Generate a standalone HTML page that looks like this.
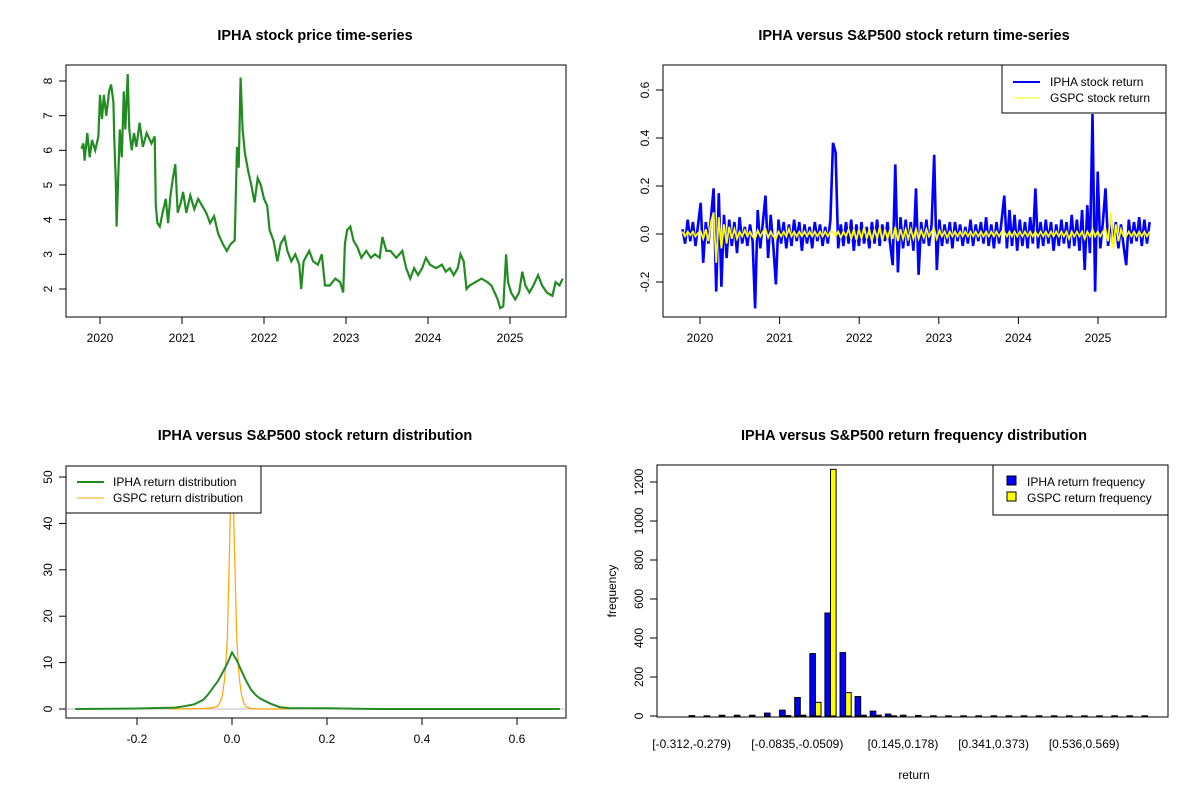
<!DOCTYPE html>
<html><head><meta charset="utf-8">
<style>
html,body{margin:0;padding:0;background:#fff;}
svg{display:block;font-family:"Liberation Sans",Arial,sans-serif;}
</style></head>
<body>
<svg id="c" width="1200" height="800" viewBox="0 0 1200 800" xmlns="http://www.w3.org/2000/svg">
<rect width="1200" height="800" fill="#fff"/>
</svg>
<script>
// ---------- Panel 1: price ----------
const priceDates = [2019.773,2019.797,2019.812,2019.845,2019.874,2019.903,2019.942,2019.981,2020.0,2020.024,2020.048,2020.077,2020.111,2020.135,2020.164,2020.174,2020.193,2020.203,2020.222,2020.242,2020.266,2020.29,2020.309,2020.338,2020.357,2020.386,2020.415,2020.444,2020.483,2020.522,2020.57,2020.628,2020.667,2020.681,2020.7,2020.729,2020.763,2020.802,2020.831,2020.86,2020.889,2020.918,2020.947,2020.986,2021.014,2021.053,2021.101,2021.15,2021.198,2021.246,2021.295,2021.343,2021.391,2021.44,2021.498,2021.546,2021.594,2021.643,2021.671,2021.691,2021.715,2021.739,2021.768,2021.807,2021.845,2021.884,2021.923,2021.961,2022.0,2022.039,2022.068,2022.116,2022.164,2022.203,2022.251,2022.285,2022.333,2022.382,2022.43,2022.454,2022.483,2022.551,2022.599,2022.657,2022.705,2022.744,2022.802,2022.87,2022.928,2022.966,2022.986,2023.014,2023.053,2023.092,2023.14,2023.188,2023.246,2023.304,2023.353,2023.411,2023.444,2023.493,2023.541,2023.614,2023.686,2023.734,2023.783,2023.831,2023.879,2023.928,2023.976,2024.024,2024.097,2024.169,2024.217,2024.266,2024.314,2024.362,2024.396,2024.435,2024.469,2024.507,2024.58,2024.652,2024.725,2024.773,2024.812,2024.85,2024.879,2024.918,2024.952,2024.976,2025.014,2025.063,2025.111,2025.15,2025.188,2025.237,2025.285,2025.343,2025.391,2025.449,2025.517,2025.556,2025.604,2025.643];
const priceValues = [6.05,6.2,5.7,6.5,5.8,6.3,6.0,6.4,7.6,6.9,7.6,7.0,7.7,7.9,7.4,6.3,5.1,3.8,5.2,6.6,5.8,7.7,6.6,8.2,6.6,6.0,6.5,6.1,6.8,6.1,6.5,6.2,6.4,4.4,3.9,3.8,4.2,4.6,3.9,4.7,5.2,5.6,4.2,4.5,4.8,4.2,4.7,4.3,4.6,4.4,4.2,3.9,4.1,3.6,3.3,3.1,3.3,3.4,6.1,5.5,8.1,6.6,5.9,5.4,5.0,4.5,5.2,5.0,4.6,4.4,3.7,3.4,2.8,3.3,3.5,3.1,2.8,3.0,2.7,2.0,2.8,3.1,2.8,2.7,3.0,2.1,2.1,2.3,2.2,1.9,3.3,3.7,3.8,3.4,3.2,2.9,3.1,2.9,3.0,2.9,3.5,3.1,3.1,2.9,3.1,2.6,2.3,2.6,2.4,2.6,2.9,2.7,2.6,2.7,2.5,2.6,2.4,2.6,3.0,2.8,2.0,2.1,2.2,2.3,2.2,2.1,1.9,1.7,1.45,1.5,3.0,2.2,1.9,1.7,1.9,2.5,2.1,1.9,2.1,2.4,2.1,1.9,1.8,2.2,2.1,2.3];
const priceYTicks = [2,3,4,5,6,7,8];
const yearTicks = [2020,2021,2022,2023,2024,2025];

// ---------- Panel 2: returns ----------
const retStart = 2019.78, retStep = 0.0326;
const iphaReturns = [0.02,-0.04,0.06,-0.03,0.05,-0.05,0.04,0.13,-0.12,0.05,-0.04,0.07,
0.19,-0.24,0.17,-0.22,0.08,-0.1,0.06,-0.05,0.05,-0.08,0.07,-0.04,0.03,-0.05,0.04,-0.03,
-0.31,0.1,-0.06,0.05,0.16,-0.1,0.08,-0.05,
-0.21,0.06,-0.04,0.05,-0.06,0.04,-0.05,0.06,-0.03,0.05,-0.07,0.04,-0.04,0.03,-0.06,0.05,-0.03,0.04,-0.05,0.03,-0.04,0.06,
0.38,0.34,-0.06,0.04,-0.05,0.05,-0.04,0.06,-0.07,0.04,-0.05,0.05,-0.04,0.03,-0.06,0.05,-0.04,0.06,-0.05,0.04,-0.03,0.05,-0.04,
-0.13,0.29,-0.16,0.07,-0.06,0.06,-0.05,0.05,-0.07,0.19,-0.17,0.05,-0.04,0.06,-0.05,0.04,0.33,-0.15,
0.06,-0.05,0.04,-0.04,0.05,-0.06,0.05,-0.03,0.04,-0.05,0.03,-0.04,0.06,-0.05,0.04,-0.03,0.05,-0.04,0.07,-0.05,0.04,-0.06,0.05,-0.04,0.06,
0.16,-0.06,0.1,-0.05,0.08,-0.07,0.06,-0.05,0.05,-0.06,0.07,-0.04,
0.19,-0.06,0.05,-0.05,0.06,-0.04,0.05,-0.07,0.04,-0.05,0.06,-0.04,0.05,-0.06,0.08,-0.05,0.06,-0.07,0.1,
-0.15,0.12,-0.08,0.5,-0.24,0.26,-0.06,0.05,0.19,-0.05,0.06,-0.04,0.05,-0.06,0.04,-0.05,-0.13,
0.06,-0.04,0.05,-0.03,0.07,-0.05,0.06,-0.04,0.05];
const gspcReturns = [0.01,-0.01,0.01,-0.005,0.01,-0.01,0.005,0.01,-0.02,0.02,-0.03,0.05,
0.09,-0.12,0.07,-0.06,0.04,-0.04,0.03,-0.02,0.02,-0.02,0.01,-0.01,0.015,-0.01,0.01,-0.01,
-0.02,0.015,-0.01,0.01,0.02,-0.015,0.01,-0.01,-0.02,0.01,-0.01,0.01,-0.01,0.02,-0.01,0.01,-0.01,0.01,-0.01,0.01,-0.01,0.01,-0.01,0.01,-0.01,0.01,-0.01,0.01,-0.01,0.01,
0.01,-0.01,0.01,-0.015,0.01,-0.01,0.02,-0.02,0.02,-0.025,0.02,-0.02,0.03,-0.02,0.02,-0.03,0.02,-0.02,0.03,-0.03,0.02,-0.02,0.02,
-0.02,0.03,-0.03,0.02,-0.02,0.02,-0.02,0.02,-0.02,0.02,-0.02,0.015,-0.015,0.02,-0.01,0.01,0.02,-0.02,
0.015,-0.01,0.01,-0.015,0.01,-0.01,0.01,-0.01,0.01,-0.01,0.01,-0.01,0.01,-0.01,0.01,-0.01,0.01,-0.01,0.01,-0.01,0.01,-0.01,0.01,-0.01,0.01,
0.01,-0.01,0.01,-0.01,0.01,-0.01,0.01,-0.01,0.01,-0.01,0.01,-0.01,
0.01,-0.01,0.01,-0.01,0.01,-0.01,0.01,-0.01,0.01,-0.01,0.01,-0.01,0.01,-0.02,0.01,-0.01,0.01,-0.01,0.01,
-0.02,0.01,-0.01,0.02,-0.01,0.01,-0.01,0.01,0.02,-0.03,0.09,-0.06,0.04,-0.03,0.02,-0.01,-0.01,
0.01,-0.01,0.01,-0.01,0.01,-0.01,0.01,-0.01,0.01];
const retYTicks = [-0.2,0.0,0.2,0.4,0.6];

// ---------- Panel 3: density ----------
const densX = [-0.33,-0.2,-0.12,-0.1,-0.08,-0.06,-0.05,-0.04,-0.03,-0.02,-0.01,0,0.01,0.02,0.03,0.04,0.05,0.06,0.08,0.1,0.12,0.2,0.3,0.5,0.69];
const iphaDens = [0,0.1,0.3,0.6,1.0,2.0,3.2,4.6,6.0,7.8,9.8,12.2,10.5,8.2,6.0,4.2,3.0,2.2,1.2,0.4,0.2,0.15,0,0,0];
const gspcDensX = [-0.13,-0.06,-0.04,-0.03,-0.025,-0.02,-0.015,-0.01,-0.005,0,0.005,0.01,0.015,0.02,0.025,0.03,0.04,0.06,0.12];
const gspcDens = [0,0.1,0.3,0.6,1.5,3,7,15,35,60,35,15,7,3,1.2,0.4,0.1,0,0];
const densXTicks = [-0.2,0,0.2,0.4,0.6];
const densYTicks = [0,10,20,30,40,50];

// ---------- Panel 4: histogram ----------
const binLabels = ["[-0.312,-0.279)","[-0.0835,-0.0509)","[0.145,0.178)","[0.341,0.373)","[0.536,0.569)"];
const binLabelIdx = [0,7,14,20,26];
const iphaFreq = [2,1,4,4,4,15,30,95,320,528,325,100,25,10,4,3,1,1,1,1,1,1,1,1,1,1,1,1,1,1,1];
const gspcFreq = [0,0,0,0,0,0,2,4,70,1265,120,4,4,1,0,0,0,0,0,0,0,0,0,0,0,0,0,0,0,0,0];
const histYTicks = [0,200,400,600,800,1000,1200];

const NS="http://www.w3.org/2000/svg";
const svg=document.getElementById('c');
function el(tag,attrs,parent){const e=document.createElementNS(NS,tag);for(const k in attrs)e.setAttribute(k,attrs[k]);(parent||svg).appendChild(e);return e;}
function txt(s,attrs,parent){const e=el('text',attrs,parent);e.textContent=s;return e;}
function lin(d0,d1,r0,r1){return v=>r0+(v-d0)*(r1-r0)/(d1-d0);}

const titles=[["IPHA stock price time-series",315,40],["IPHA versus S&P500 stock return time-series",914,40],["IPHA versus S&P500 stock return distribution",315,440],["IPHA versus S&P500 return frequency distribution",914,440]];
titles.forEach((t,i)=>{const e=txt(t[0],{x:t[1],y:t[2],'text-anchor':'middle','font-size':'14.5','font-weight':'bold',fill:'#000'});

});

function box(x0,y0,x1,y1,name){const r=el('rect',{x:x0,y:y0,width:x1-x0,height:y1-y0,fill:'none',stroke:'#000','stroke-width':1});

}
function yAxis(ticks,sy,x,y0,y1,fmt,name){const g=el('g',{});


el('line',{x1:x,x2:x,y1:sy(ticks[0]),y2:sy(ticks[ticks.length-1]),stroke:'#000'},g);
ticks.forEach(t=>{const y=sy(t);el('line',{x1:x-7,x2:x,y1:y,y2:y,stroke:'#000'},g);
txt(fmt(t),{x:x-14,y:y,'text-anchor':'middle','font-size':'12',transform:`rotate(-90 ${x-14} ${y})`,dy:'0'},g);});}
function xAxis(ticks,sx,y,fmt,name){const g=el('g',{});


el('line',{x1:sx(ticks[0]),x2:sx(ticks[ticks.length-1]),y1:y,y2:y,stroke:'#000'},g);
ticks.forEach(t=>{const x=sx(t);el('line',{x1:x,x2:x,y1:y,y2:y+7,stroke:'#000'},g);
txt(fmt(t),{x:x,y:y+25,'text-anchor':'middle','font-size':'12'},g);});}

// Panel 1
{const sx=lin(2020,2025,100,510), sy=lin(2,8,289,81);
box(66,65,566,317,'price-plot-box');
yAxis(priceYTicks,sy,66,0,0,String,'price-y-axis');
xAxis(yearTicks,sx,317,String,'price-x-axis');
const pts=priceDates.map((d,i)=>sx(d).toFixed(1)+','+sy(priceValues[i]).toFixed(1)).join(' ');
const p=el('polyline',{points:pts,fill:'none',stroke:'#228B22','stroke-width':2.2,'stroke-linejoin':'miter'});

}

// Panel 2
{const sx=lin(2020,2025,700,1098), sy=lin(0,0.2,234,186);
box(663,65,1166,317,'return-plot-box');
yAxis(retYTicks,sy,663,0,0,t=>t.toFixed(1),'return-y-axis');
xAxis(yearTicks,sx,317,String,'return-x-axis');
const p1=el('polyline',{points:iphaReturns.map((v,i)=>sx(retStart+i*retStep).toFixed(1)+','+sy(v).toFixed(1)).join(' '),fill:'none',stroke:'#0000ff','stroke-width':2.6});


const p2=el('polyline',{points:gspcReturns.map((v,i)=>sx(retStart+i*retStep).toFixed(1)+','+sy(v).toFixed(1)).join(' '),fill:'none',stroke:'#ffff00','stroke-width':1.8});


const lg=el('g',{});


el('rect',{x:1002,y:65,width:164,height:48,fill:'#fff',stroke:'#000'},lg);
el('line',{x1:1013,x2:1040,y1:82,y2:82,stroke:'#0000ff','stroke-width':2},lg);
el('line',{x1:1013,x2:1040,y1:98,y2:98,stroke:'#ffff00','stroke-width':1},lg);
txt('IPHA stock return',{x:1050,y:86,'font-size':'12'},lg);
txt('GSPC stock return',{x:1050,y:102,'font-size':'12'},lg);}

// Panel 3
{const sx=lin(0,0.6,232,517), sy=lin(0,50,709,477);
box(66,466,566,718,'density-plot-box');
yAxis(densYTicks,sy,66,0,0,String,'density-y-axis');
xAxis(densXTicks,sx,718,t=>t===0?'0.0':t.toFixed(1),'density-x-axis');
const cp=el('clipPath',{id:'cp3'});el('rect',{x:66,y:466,width:500,height:252},cp);
const g=el('g',{'clip-path':'url(#cp3)'});
el('line',{x1:66,x2:566,y1:sy(0),y2:sy(0),stroke:'#bebebe'},g);
const o=el('polyline',{points:gspcDensX.map((d,i)=>sx(d).toFixed(1)+','+sy(gspcDens[i]).toFixed(1)).join(' '),fill:'none',stroke:'#ffa500','stroke-width':1.2},g);


const gr=el('polyline',{points:densX.map((d,i)=>sx(d).toFixed(1)+','+sy(iphaDens[i]).toFixed(1)).join(' '),fill:'none',stroke:'#228B22','stroke-width':2},g);


const lg=el('g',{});


el('rect',{x:66,y:466,width:195,height:47,fill:'#fff',stroke:'#000'},lg);
el('line',{x1:77,x2:104,y1:482,y2:482,stroke:'#228B22','stroke-width':2},lg);
el('line',{x1:77,x2:104,y1:498,y2:498,stroke:'#ffa500','stroke-width':1},lg);
txt('IPHA return distribution',{x:113,y:486,'font-size':'12'},lg);
txt('GSPC return distribution',{x:113,y:502,'font-size':'12'},lg);}

// Panel 4
{const sy=lin(0,1200,716,482); const bx=i=>689+i*15.1; const bw=5.6;
box(657,465,1168,717,'histogram-plot-box');
yAxis(histYTicks,sy,657,0,0,String,'histogram-y-axis');
const cp=el('clipPath',{id:'cp4'});el('rect',{x:657,y:465,width:511,height:252},cp);
const g=el('g',{'clip-path':'url(#cp4)'});
iphaFreq.forEach((v,i)=>{const r=el('rect',{x:bx(i),y:sy(v),width:bw,height:Math.max(0,sy(0)-sy(v)),fill:'#0000ff',stroke:'#000','stroke-width':1},g);

});
gspcFreq.forEach((v,i)=>{const r=el('rect',{x:bx(i)+bw,y:sy(v),width:bw,height:Math.max(0,sy(0)-sy(v)),fill:'#ffff00',stroke:'#000','stroke-width':1},g);

});
binLabelIdx.forEach((b,k)=>{const t=txt(binLabels[k],{x:bx(b)+bw-3,y:748,'text-anchor':'middle','font-size':'12'});

});
const xl=txt('return',{x:914,y:779,'text-anchor':'middle','font-size':'12'});


const yl=txt('frequency',{x:616,y:591,'text-anchor':'middle','font-size':'12',transform:'rotate(-90 616 591)'});


const lg=el('g',{});


el('rect',{x:993,y:465,width:175,height:50,fill:'#fff',stroke:'#000'},lg);
el('rect',{x:1007,y:476,width:9,height:9,fill:'#0000ff',stroke:'#000'},lg);
el('rect',{x:1007,y:492,width:9,height:9,fill:'#ffff00',stroke:'#000'},lg);
txt('IPHA return frequency',{x:1027,y:486,'font-size':'12'},lg);
txt('GSPC return frequency',{x:1027,y:502,'font-size':'12'},lg);}
</script>
</body></html>
